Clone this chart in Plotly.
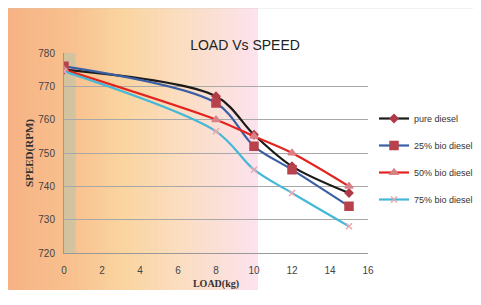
import plotly.graph_objects as go

# ---------------- data ----------------
load = [0, 8, 10, 12, 15]
pure_diesel = [775, 767, 755.5, 746, 738]
bio25 = [776, 765, 752, 745, 734]
bio50 = [775, 760, 755, 750, 740]
bio75 = [774.5, 756.5, 745, 738, 728]
series_names = ["pure diesel", "25% bio diesel", "50% bio diesel", "75% bio diesel"]
x_ticks = [0, 2, 4, 6, 8, 10, 12, 14, 16]
y_ticks = [720, 730, 740, 750, 760, 770, 780]

OFF = 8  # page body margin
W, H = 481 - OFF, 282
# plot area in reference (page) pixels
L, R, T, B = 64, 368, 53, 253


def px2paper_x(px):
    return (px - L) / (R - L)


def px2paper_y(py):
    return (B - py) / (B - T)


fig = go.Figure()

styles = [
    (pure_diesel, "#1a1a1a", "diamond", "#b03a48", 6),
    (bio25, "#3b5fa5", "square", "#b8424c", 8),
    (bio50, "#e3231e", "triangle-up", "#d98088", 7),
    (bio75, "#45b8d8", "x-thin", "#e8a8b0", 6),
]
for i, (vals, lc, sym, mc, ms) in enumerate(styles):
    fig.add_trace(go.Scatter(
        x=load, y=vals, mode="lines+markers", name=series_names[i],
        legendgroup=f"g{i}",
        line=dict(color=lc, width=2.2, shape="spline", smoothing=0.9),
        marker=dict(symbol=sym, color=mc, size=ms,
                    line=dict(color=mc, width=1.5)),
    ))

# ---------------- background gradient ----------------
stops = [(6, (247, 178, 132)), (70, (248, 192, 142)), (125, (250, 213, 160)),
         (190, (251, 222, 198)), (258, (252, 226, 238))]


def col_at(px):
    for (a, ca), (b, cb) in zip(stops, stops[1:]):
        if a <= px <= b:
            t = (px - a) / (b - a)
            return tuple(int(round(ca[k] + (cb[k] - ca[k]) * t)) for k in range(3))
    return stops[-1][1]


shapes = []
n = 63
x0 = 6
step = (258 - 6) / n
for k in range(n):
    a = x0 + k * step
    b = a + step + 0.6
    c = col_at(a + step / 2)
    shapes.append(dict(type="rect", xref="paper", yref="paper",
                       x0=px2paper_x(a), x1=px2paper_x(min(b, 258)),
                       y0=px2paper_y(310), y1=px2paper_y(8),
                       fillcolor=f"rgb{c}", line=dict(width=0), layer="below"))
# frame line at top
shapes.append(dict(type="line", xref="paper", yref="paper",
                   x0=px2paper_x(6), x1=px2paper_x(490), y0=px2paper_y(7.5), y1=px2paper_y(7.5),
                   line=dict(color="#c8c8c8", width=1.5), layer="below"))
# greyish band at left of plot area
shapes.append(dict(type="rect", xref="x", yref="y", x0=0, x1=0.6, y0=720, y1=780,
                   fillcolor="rgba(195,195,165,0.7)", line=dict(width=0), layer="below"))

fig.update_layout(
    width=W, height=H,
    margin=dict(l=L - OFF, r=481 - R, t=T - OFF, b=H - (B - OFF), autoexpand=False),
    paper_bgcolor="white", plot_bgcolor="rgba(0,0,0,0)",
    shapes=shapes,
    title=dict(text="LOAD Vs SPEED", x=(245 - OFF) / W, xref="container", xanchor="center",
               y=1 - (45 - OFF) / H, yref="container", yanchor="middle",
               font=dict(family="Liberation Sans, Arial", size=14, color="#222")),
    font=dict(family="Liberation Sans, Arial", size=10, color="#333"),
    showlegend=True,
    legend=dict(x=px2paper_x(374), y=px2paper_y(104), xanchor="left", yanchor="top",
                bgcolor="rgba(0,0,0,0)", font=dict(size=9, color="#333"),
                tracegroupgap=8, itemwidth=30),
    xaxis=dict(range=[0, 16], tickvals=x_ticks, showgrid=False, zeroline=False,
               showline=True, linecolor="#999", linewidth=1, automargin=False,
               ticks="outside", ticklen=8, tickcolor="rgba(0,0,0,0)",
               tickfont=dict(size=10, color="#444"),
               title=dict(text="<b>LOAD(kg)</b>", standoff=8,
                          font=dict(family="Liberation Serif, Times New Roman", size=10, color="#333"))),
    yaxis=dict(range=[720, 780], tickvals=y_ticks, showgrid=True, gridcolor="#a8a8a8",
               gridwidth=1.3, zeroline=False, showline=True, linecolor="#999", automargin=False,
               ticks="outside", ticklen=6, tickcolor="rgba(0,0,0,0)",
               tickfont=dict(size=10, color="#444"),
               title=dict(text="<b>SPEED(RPM)</b>", standoff=2,
                          font=dict(family="Liberation Serif, Times New Roman", size=11, color="#333"))),
)

fig.write_html("out.html")
